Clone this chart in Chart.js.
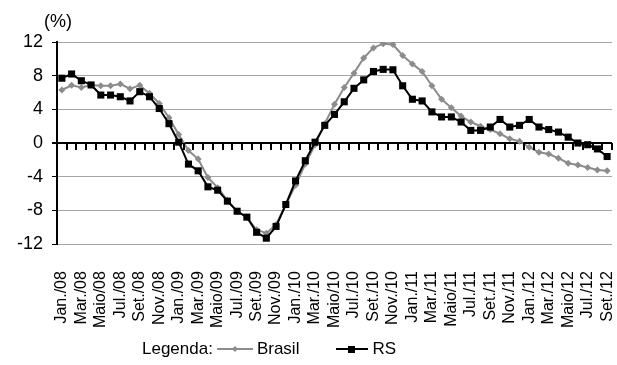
<!DOCTYPE html>
<html>
<head>
<meta charset="utf-8">
<script src="https://cdn.jsdelivr.net/npm/chart.js@4"></script>
<style>
  body { margin: 0; background: #fff; }
  #wrap { position: relative; width: 617px; height: 365px; font-family: "Liberation Sans", Arial, sans-serif; color: #000; }
  #unit { position: absolute; left: 44px; top: 11px; font-size: 18px; }
  #legend { position: absolute; left: 142px; top: 339px; font-size: 17px; line-height: 20px; display: flex; align-items: center; white-space: nowrap; }
  #legend svg { display: block; }
</style>
</head>
<body>
<div id="wrap">
  <canvas id="lineChart" width="617" height="365"></canvas>
  <div id="unit">(%)</div>
  <div id="legend">
    <span>Legenda:</span>
    <svg width="36" height="12" style="margin-left:4px"><line x1="0" y1="6" x2="36" y2="6" stroke="#8c8c8c" stroke-width="2"/><path d="M18 3 L21 6 L18 9 L15 6 Z" fill="#8c8c8c"/></svg>
    <span style="margin-left:4px">Brasil</span>
    <svg width="32" height="12" style="margin-left:37px"><line x1="0" y1="6" x2="32" y2="6" stroke="#000" stroke-width="2"/><rect x="12" y="3" width="7" height="7" fill="#000"/></svg>
    <span style="margin-left:4px">RS</span>
  </div>
</div>
<script>
// months Jan/08 .. Set/12
var monthNames = ["Jan.", "Fev.", "Mar.", "Abr.", "Maio", "Jun.", "Jul.", "Ago.", "Set.", "Out.", "Nov.", "Dez."];
var years = ["08", "09", "10", "11", "12"];
var lastMonth = 9; // Set./12

var categories = [];
years.forEach(function (yy, yi) {
  var n = yi === years.length - 1 ? lastMonth : 12;
  for (var m = 0; m < n; m++) categories.push(monthNames[m] + "/" + yy);
});

var brasil = [6.3, 6.85, 6.6, 6.9, 6.8, 6.8, 7.0, 6.45, 6.85, 5.9, 4.7, 3.0,
  1.0, -0.9, -1.9, -4.1, -5.3, -6.8, -8.1, -8.8, -10.3, -10.7, -9.7, -7.3,
  -5.0, -2.5, -0.2, 2.3, 4.6, 6.6, 8.3, 10.1, 11.3, 11.8, 11.7, 10.4,
  9.4, 8.5, 6.8, 5.2, 4.2, 3.2, 2.5, 2.0, 1.6, 1.1, 0.5, 0.2,
  -0.5, -1.1, -1.3, -1.8, -2.4, -2.6, -2.9, -3.2, -3.3];

var rs = [7.7, 8.2, 7.4, 6.9, 5.7, 5.7, 5.5, 5.0, 6.1, 5.5, 4.1, 2.3,
  0.1, -2.5, -3.3, -5.2, -5.6, -6.9, -8.1, -8.8, -10.6, -11.3, -9.9, -7.3,
  -4.5, -2.1, 0.1, 2.1, 3.4, 4.9, 6.5, 7.5, 8.5, 8.75, 8.7, 6.8,
  5.2, 5.0, 3.7, 3.1, 3.1, 2.5, 1.5, 1.5, 1.9, 2.8, 1.9, 2.1,
  2.8, 1.9, 1.6, 1.3, 0.7, 0.0, -0.2, -0.7, -1.6];

var yTicks = [-12, -8, -4, 0, 4, 8, 12];

// little tick marks hanging under the zero line, between months
var zeroTicks = {
  id: "zeroTicks",
  afterDraw: function (chart) {
    var xs = chart.scales.x;
    var y0 = Math.round(chart.scales.y.getPixelForValue(0));
    var step = xs.width / categories.length;
    var c = chart.ctx;
    c.save();
    c.strokeStyle = "#000";
    c.lineWidth = 2;
    c.beginPath();
    for (var i = 1; i <= categories.length; i++) {
      var px = Math.round(xs.left + step * i);
      c.moveTo(px, y0);
      c.lineTo(px, y0 + 7);
    }
    c.stroke();
    c.restore();
  },
};
Chart.register(zeroTicks);

Chart.defaults.font.family = '"Liberation Sans", Arial, sans-serif';
Chart.defaults.color = "#000";

var ctx = document.getElementById("lineChart").getContext("2d");
var myChart = new Chart(ctx, {
  type: "line",
  data: {
    labels: categories,
    datasets: [
      {
        label: "Brasil",
        data: brasil,
        borderColor: "#8c8c8c",
        backgroundColor: "#8c8c8c",
        borderWidth: 2,
        pointStyle: "rectRot",
        pointRadius: 3.5,
        pointBorderWidth: 0,
        tension: 0,
        order: 2,
      },
      {
        label: "RS",
        data: rs,
        borderColor: "#000",
        backgroundColor: "#000",
        borderWidth: 2,
        pointStyle: "rect",
        pointRadius: 5,
        pointBorderWidth: 0,
        tension: 0,
        order: 1,
      },
    ],
  },
  options: {
    responsive: false,
    animation: false,
    layout: { padding: { left: 0, right: 5, top: 42, bottom: 18 } },
    plugins: { legend: { display: false }, tooltip: { enabled: false } },
    scales: {
      x: {
        type: "category",
        offset: true,
        grid: { display: false },
        border: { display: false },
        afterFit: function (scale) {
          scale.paddingLeft = 0;
          scale.paddingRight = 0;
        },
        ticks: {
          autoSkip: false,
          minRotation: 90,
          maxRotation: 90,
          padding: 19,
          font: { size: 16 },
          callback: function (val, i) {
            return i % 2 === 0 ? this.getLabelForValue(val) : "";
          },
        },
      },
      y: {
        min: -12,
        max: 12,
        afterBuildTicks: function (scale) {
          scale.ticks = yTicks.map(function (v) { return { value: v }; });
        },
        afterFit: function (scale) { scale.width = 57; },
        grid: {
          color: function (c) { return c.tick && c.tick.value === 0 ? "#000" : "#a6a6a6"; },
          lineWidth: function (c) { return c.tick && c.tick.value === 0 ? 2 : 1; },
          tickColor: "#000",
          tickLength: 5,
        },
        border: { color: "#000", width: 2 },
        ticks: { padding: 9, font: { size: 18 } },
      },
    },
  },
});
</script>
</body>
</html>
